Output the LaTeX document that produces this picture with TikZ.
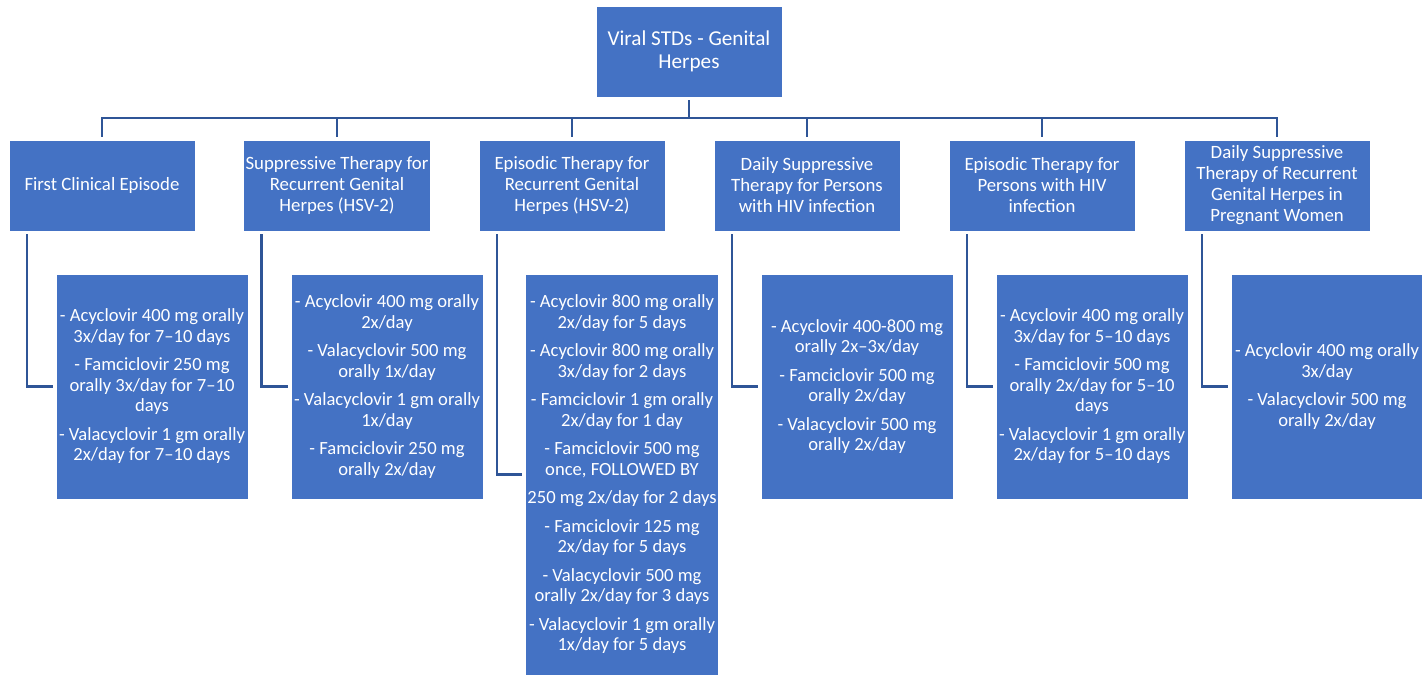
\documentclass[tikz,border=0pt]{standalone}
\usepackage{fontspec}
\setmainfont{Carlito}
\usepackage{xcolor}
\usepackage{tikz}
\definecolor{boxblue}{HTML}{4472C4}
\definecolor{linkblue}{HTML}{2F5597}

\begin{document}
\begin{tikzpicture}[x=1pt,y=1pt,
	box/.style={draw=white, line width=1pt, fill=boxblue, text=white, align=center,
		minimum width=186pt, minimum height=91pt, inner sep=2pt, outer sep=3pt,
		font=\fontsize{18.8}{21}\selectfont},
	drug/.style={box, minimum width=192pt, minimum height=225pt, font=\fontsize{18.6}{20.5}\selectfont},
	link/.style={draw=linkblue, line width=2.6pt}]
		\useasboundingbox (0,0) rectangle (1422,-675);

		\node[box, font=\fontsize{21.2}{23}\selectfont] (root) at (689,-51.5) {Viral STDs - Genital\\Herpes};

		\node[box] (first) at (102,-185.5) {First Clinical Episode};
		\node[box] (supp) at (337,-185.5) {Suppressive Therapy for\\Recurrent Genital\\Herpes (HSV-2)};
		\node[box] (epis) at (572,-185.5) {Episodic Therapy for\\Recurrent Genital\\Herpes (HSV-2)};
		\node[box] (hivsupp) at (807,-185.5) {Daily Suppressive\\Therapy for Persons\\with HIV infection};
		\node[box] (hivepis) at (1042,-185.5) {Episodic Therapy for\\Persons with HIV\\infection};
		\node[box] (preg) at (1277,-185.5) {Daily Suppressive\\Therapy of Recurrent\\Genital Herpes in\\Pregnant Women};

		\node[drug] (first-rx) at (152,-386.5) {- Acyclovir 400 mg orally\\3x/day for 7–10 days\\[8pt]- Famciclovir 250 mg\\orally 3x/day for 7–10\\days\\[8pt]- Valacyclovir 1 gm orally\\2x/day for 7–10 days};
		\node[drug] (supp-rx) at (387,-386.5) {- Acyclovir 400 mg orally\\2x/day\\[8pt]- Valacyclovir 500 mg\\orally 1x/day\\[8pt]- Valacyclovir 1 gm orally\\1x/day\\[8pt]- Famciclovir 250 mg\\orally 2x/day};
		\node[drug, minimum height=401pt] (epis-rx) at (622,-474.5) {- Acyclovir 800 mg orally\\2x/day for 5 days\\[8pt]- Acyclovir 800 mg orally\\3x/day for 2 days\\[8pt]- Famciclovir 1 gm orally\\2x/day for 1 day\\[8pt]- Famciclovir 500 mg\\once, FOLLOWED BY\\[8pt]250 mg 2x/day for 2 days\\[8pt]- Famciclovir 125 mg\\2x/day for 5 days\\[8pt]- Valacyclovir 500 mg\\orally 2x/day for 3 days\\[8pt]- Valacyclovir 1 gm orally\\1x/day for 5 days};
		\node[drug] (hivsupp-rx) at (857,-386.5) {- Acyclovir 400-800 mg\\orally 2x–3x/day\\[8pt]- Famciclovir 500 mg\\orally 2x/day\\[8pt]- Valacyclovir 500 mg\\orally 2x/day};
		\node[drug] (hivepis-rx) at (1092,-386.5) {- Acyclovir 400 mg orally\\3x/day for 5–10 days\\[8pt]- Famciclovir 500 mg\\orally 2x/day for 5–10\\days\\[8pt]- Valacyclovir 1 gm orally\\2x/day for 5–10 days};
		\node[drug] (preg-rx) at (1327,-386.5) {- Acyclovir 400 mg orally\\3x/day\\[8pt]- Valacyclovir 500 mg\\orally 2x/day};

		\path (root.south) ++(0,-18) coordinate (bus);
		\foreach \n in {first,supp,epis,hivsupp,hivepis,preg} {
			\draw[link] (root.south) -- (bus) -| (\n.north);
			\draw[link] ([xshift=21pt]\n.south west) |- (\n-rx.west);
		}
	\end{tikzpicture}
\end{document}
